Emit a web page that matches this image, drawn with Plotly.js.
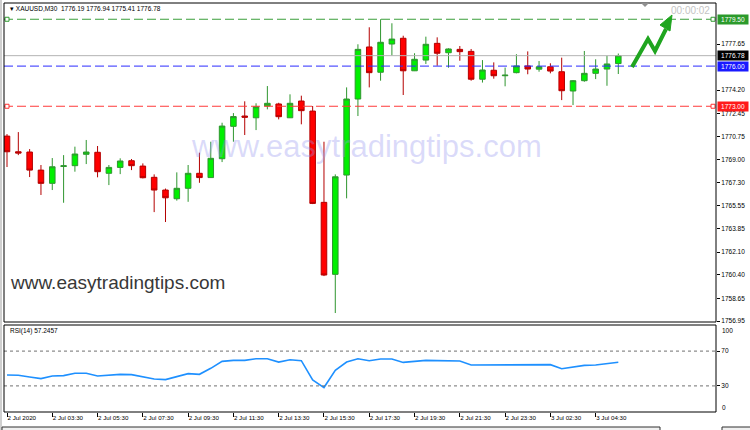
<!DOCTYPE html>
<html><head><meta charset="utf-8">
<script src="https://cdn.plot.ly/plotly-3.0.1.min.js"></script>
<style>html,body{margin:0;padding:0;background:#fff;}#chart{width:750px;height:430px;}</style>
</head><body><div id="chart"></div>
<script>
// ---- data ----
const bars = Array.from({length: 55}, (_, i) => i);
const opens = [1770.77,1769.60,1769.58,1768.23,1767.24,1768.50,1768.56,1769.41,1769.56,1767.99,
  1768.43,1768.93,1768.53,1767.69,1766.74,1766.09,1766.87,1767.99,1767.67,1769.08,
  1771.50,1772.27,1772.14,1773.02,1773.17,1772.14,1773.39,1772.64,1765.82,1760.44,
  1767.86,1773.54,1777.43,1775.54,1777.65,1778.08,1775.65,1776.45,1777.70,1777.00,
  1777.25,1777.10,1775.02,1775.69,1775.28,1775.51,1776.01,1775.77,1775.95,1775.58,
  1774.14,1774.91,1775.46,1775.78,1776.19];
const highs = [1770.92,1771.07,1769.80,1768.61,1769.13,1769.35,1769.98,1770.48,1770.03,1768.61,
  1769.11,1769.06,1768.73,1767.91,1766.85,1768.06,1768.61,1769.53,1770.35,1771.77,
  1772.49,1773.37,1773.22,1774.51,1773.26,1773.89,1773.79,1773.02,1770.35,1767.91,
  1774.41,1777.63,1778.90,1779.50,1779.20,1778.27,1776.96,1778.20,1778.15,1777.33,
  1777.50,1777.28,1776.45,1776.28,1775.89,1776.89,1777.10,1776.38,1776.21,1776.63,
  1774.96,1777.13,1776.51,1776.78,1776.94];
const lows = [1768.46,1769.35,1767.71,1766.37,1766.74,1765.79,1768.11,1768.68,1767.69,1767.11,
  1767.93,1768.23,1767.61,1765.09,1764.35,1765.95,1765.86,1767.28,1767.66,1768.83,
  1770.35,1770.85,1771.22,1772.77,1772.02,1772.12,1771.65,1765.69,1760.31,1757.55,
  1766.12,1772.27,1774.41,1774.91,1776.78,1773.84,1775.63,1776.16,1776.03,1775.88,
  1776.40,1774.91,1774.77,1775.06,1774.49,1775.46,1775.39,1775.58,1775.46,1773.46,
  1773.09,1774.83,1775.03,1774.53,1775.41];
const closes = [1769.60,1769.50,1768.23,1767.24,1768.48,1768.55,1769.43,1769.58,1768.11,1768.43,
  1768.91,1768.56,1767.66,1766.74,1766.16,1766.87,1767.99,1767.67,1769.11,1771.52,
  1772.23,1772.18,1772.96,1773.22,1772.22,1773.22,1772.67,1765.74,1760.39,1767.73,
  1773.54,1777.25,1775.51,1777.78,1778.02,1775.65,1776.51,1777.63,1776.96,1777.28,
  1777.08,1775.02,1775.71,1775.28,1775.32,1776.01,1775.78,1775.95,1775.63,1774.16,
  1774.91,1775.46,1775.78,1776.16,1776.78];
const rsi = [42.6,42.2,40.3,38.4,41.4,41.8,44.5,44.5,41.4,42.2,
  43.3,43.0,40.3,38.0,37.2,40.3,44.1,43.3,50.2,58.2,
  59.3,59.3,61.2,61.2,57.4,60.1,59.0,36.9,28.1,47.9,
  57.4,61.2,59.0,60.9,60.9,57.0,57.8,59.3,59.0,59.0,
  58.6,54.0,54.0,54.0,54.0,54.8,54.8,54.8,54.4,49.8,
  52.1,53.6,54.0,55.5,57.25];
const tickBars = [0,4,8,12,16,20,24,28,32,36,40,44,48,52];
const tickLabels = ["2 Jul 2020","2 Jul 03:30","2 Jul 05:30","2 Jul 07:30","2 Jul 09:30","2 Jul 11:30",
  "2 Jul 13:30","2 Jul 15:30","2 Jul 17:30","2 Jul 19:30","2 Jul 21:30","2 Jul 23:30","3 Jul 02:30","3 Jul 04:30"];
const priceTicks = [1756.95,1758.65,1760.40,1762.10,1763.85,1765.55,1767.30,1769.00,1770.75,1772.45,1774.20,1777.65];
const levelHigh = 1779.50, levelBid = 1776.78, levelBlue = 1776.00, levelRed = 1773.00;
const rsiTicks = [30, 70];
const rsiLast = "57.2457";
const symbolTitle = "XAUUSD,M30";

// ---- geometry helpers (pixel -> paper) ----
const PL = 4, PW = 712, PT = 3, PH = 409;
const fx = px => (px - PL) / PW;
const fy = py => (PT + PH - py) / PH;
const FONT = "'Liberation Sans', Arial, sans-serif";

const candle = {
  type: 'candlestick', x: bars, open: opens, high: highs, low: lows, close: closes,
  xaxis: 'x', yaxis: 'y', whiskerwidth: 0, hoverinfo: 'none',
  increasing: {line: {color: '#2f962f', width: 1}, fillcolor: '#00f000'},
  decreasing: {line: {color: '#b40000', width: 1}, fillcolor: '#ff0000'}
};
const rsiTrace = {
  type: 'scatter', mode: 'lines', x: bars, y: rsi, xaxis: 'x', yaxis: 'y2',
  line: {color: '#1e90ff', width: 1.6}, hoverinfo: 'none'
};

function sq(yref, yv, xa) {
  return {type: 'rect', xref: 'paper', yref: yref, xsizemode: 'pixel', ysizemode: 'pixel',
    xanchor: xa, yanchor: yv, x0: xa === 0 ? 1 : -5, x1: xa === 0 ? 5 : -1, y0: -2, y1: 2,
    line: {color: yv === levelHigh ? '#2f9a2f' : '#ff3030', width: 1}, fillcolor: '#ffffff'};
}

const shapes = [
  // level lines
  {type:'line', xref:'paper', yref:'y', x0:0, x1:1, y0:levelHigh, y1:levelHigh, line:{color:'#3a9e3a', width:1, dash:'9px,4px'}},
  {type:'line', xref:'paper', yref:'y', x0:0, x1:1, y0:levelBid, y1:levelBid, line:{color:'#b4b4b4', width:1}},
  {type:'line', xref:'paper', yref:'y', x0:0, x1:1, y0:levelBlue, y1:levelBlue, line:{color:'#2a2aff', width:1, dash:'9px,4px'}},
  {type:'line', xref:'paper', yref:'y', x0:0, x1:1, y0:levelRed, y1:levelRed, line:{color:'#ff3a3a', width:1, dash:'9px,4px'}},
  sq('y', levelHigh, 0), sq('y', levelHigh, 1), sq('y', levelRed, 0), sq('y', levelRed, 1),
  // RSI levels
  {type:'line', xref:'paper', yref:'y2', x0:0, x1:1, y0:rsiTicks[0], y1:rsiTicks[0], line:{color:'#707070', width:1, dash:'dot'}},
  {type:'line', xref:'paper', yref:'y2', x0:0, x1:1, y0:rsiTicks[1], y1:rsiTicks[1], line:{color:'#707070', width:1, dash:'dot'}},
  // pane borders
  {type:'rect', xref:'paper', yref:'paper', x0:0, x1:1, y0:fy(322), y1:1, line:{color:'#000', width:1}},
  {type:'rect', xref:'paper', yref:'paper', x0:0, x1:1, y0:0, y1:fy(325), line:{color:'#000', width:1}},
  // window frame bits
  {type:'line', xref:'paper', yref:'paper', x0:fx(1), x1:fx(1), y0:fy(430), y1:fy(0), line:{color:'#a0a0a0', width:1}},
  {type:'rect', xref:'paper', yref:'paper', x0:fx(2), x1:fx(660), y0:fy(434), y1:fy(427), line:{color:'#303030', width:1}, fillcolor:'#f0f0f0'},
  {type:'rect', xref:'paper', yref:'paper', x0:fx(722), x1:fx(752), y0:fy(434), y1:fy(427), line:{color:'#303030', width:1}, fillcolor:'#f0f0f0'},
  // chart shift marker
  {type:'path', xref:'paper', yref:'paper', path:`M ${fx(641)} ${fy(3)} L ${fx(649)} ${fy(3)} L ${fx(645)} ${fy(7)} Z`, fillcolor:'#909090', line:{width:0}},
  // green arrow drawing
  {type:'path', xref:'paper', yref:'paper',
    path:`M ${fx(632)} ${fy(67)} L ${fx(648)} ${fy(39)} L ${fx(655)} ${fy(51)} L ${fx(666)} ${fy(29)}`,
    line:{color:'#1fa51f', width:4}},
  {type:'path', xref:'paper', yref:'paper',
    path:`M ${fx(672)} ${fy(15)} L ${fx(660)} ${fy(25)} L ${fx(670)} ${fy(31)} Z`,
    fillcolor:'#1fa51f', line:{color:'#1fa51f', width:1}}
];

function priceLabel(v, bg) {
  return {xref:'paper', yref:'y', x:1, y:v, xanchor:'left', yanchor:'middle', xshift:1,
    text: v.toFixed(2), showarrow:false, bgcolor:bg, width:30, height:9, borderpad:0,
    font:{family:FONT, size:6.5, color:'#ffffff'}};
}

const annotations = [
  {xref:'paper', yref:'paper', x:fx(8), y:fy(8), xanchor:'left', yanchor:'middle', showarrow:false,
    text:'▾ ' + symbolTitle + '\u00a0\u00a0' + [opens[54], highs[54], lows[54], closes[54]].map(v => v.toFixed(2)).join(' '),
    font:{family:FONT, size:6.5, color:'#000'}},
  {xref:'paper', yref:'paper', x:fx(8), y:fy(331), xanchor:'left', yanchor:'middle', showarrow:false,
    text:'RSI(14) ' + rsiLast, font:{family:FONT, size:6.5, color:'#000'}},
  {xref:'paper', yref:'paper', x:fx(366), y:fy(147), xanchor:'center', yanchor:'middle', showarrow:false,
    text:'www.easytradingtips.com', font:{family:FONT, size:31, color:'rgba(150,150,240,0.35)'}},
  {xref:'paper', yref:'paper', x:fx(8), y:fy(282), xanchor:'left', yanchor:'middle', showarrow:false,
    text:'www.easytradingtips.com', font:{family:FONT, size:19, color:'#383838'}},
  {xref:'paper', yref:'paper', x:fx(712), y:fy(10), xanchor:'right', yanchor:'middle', showarrow:false,
    text:'00:00:02', font:{family:FONT, size:10, color:'#c4c4c4'}},
  {xref:'paper', yref:'paper', x:1, y:fy(330), xanchor:'left', yanchor:'middle', xshift:4, showarrow:false,
    text:'100', font:{family:FONT, size:6.5, color:'#000'}},
  {xref:'paper', yref:'paper', x:1, y:fy(407), xanchor:'left', yanchor:'middle', xshift:4, showarrow:false,
    text:'0', font:{family:FONT, size:6.5, color:'#000'}},
  priceLabel(levelHigh, '#2b9a2b'),
  priceLabel(levelBid, '#000000'),
  priceLabel(levelBlue, '#1a1aff'),
  priceLabel(levelRed, '#ff1a1a')
];

const layout = {
  width: 750, height: 430,
  margin: {l: PL, r: 750 - PL - PW, t: PT, b: 430 - PT - PH},
  paper_bgcolor: '#ffffff', plot_bgcolor: '#ffffff', showlegend: false,
  font: {family: FONT, size: 6.5, color: '#000'},
  xaxis: {anchor: 'y2', range: [-0.265, 62.63], tickvals: tickBars, ticktext: tickLabels,
    ticks: 'outside', ticklen: 4, tickcolor: '#000', showgrid: false, zeroline: false, showline: false,
    rangeslider: {visible: false}, ticklabelposition: 'outside right', tickfont: {size: 6.2, color: '#000'}},
  yaxis: {domain: [fy(322), 1], range: [1756.88, 1780.715], side: 'right', anchor: 'x',
    tickvals: priceTicks, ticktext: priceTicks.map(v => v.toFixed(2)),
    ticks: 'outside', ticklen: 3, tickcolor: '#000', showgrid: false, zeroline: false, showline: false,
    tickfont: {size: 6.5, color: '#000'}},
  yaxis2: {domain: [0, fy(325)], range: [0, 100], side: 'right', anchor: 'x',
    tickvals: rsiTicks, ticktext: rsiTicks.map(String), ticks: 'outside', ticklen: 3, tickcolor: '#000',
    showgrid: false, zeroline: false, showline: false, tickfont: {size: 6.5, color: '#000'}},
  shapes: shapes,
  annotations: annotations
};

Plotly.newPlot('chart', [candle, rsiTrace], layout, {staticPlot: true, displayModeBar: false});
</script>
</body></html>
